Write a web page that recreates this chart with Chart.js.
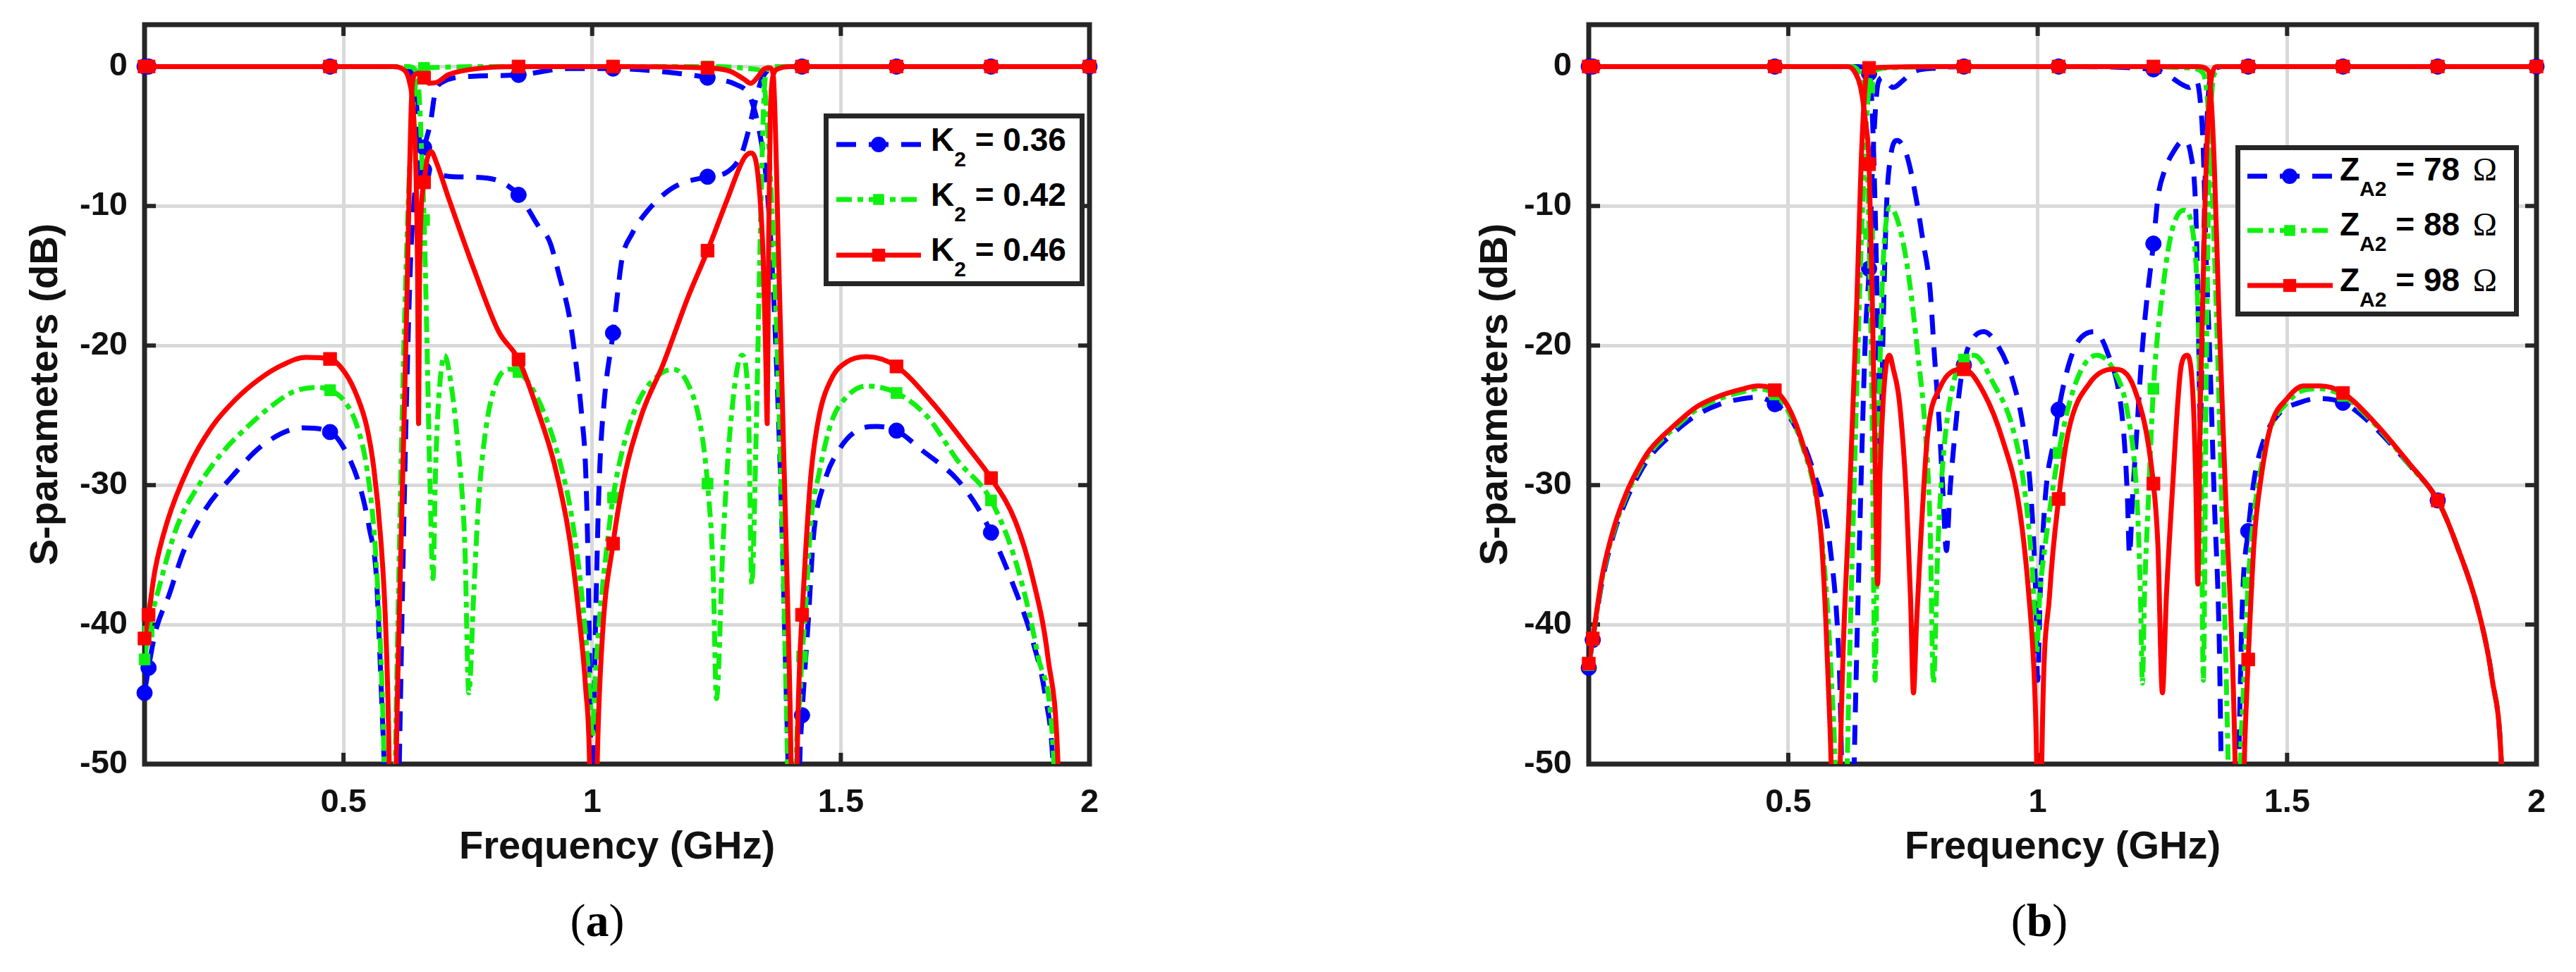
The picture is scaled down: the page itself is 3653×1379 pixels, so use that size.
<!DOCTYPE html>
<html>
<head>
<meta charset="utf-8">
<title>S-parameters</title>
<script src="https://cdn.jsdelivr.net/npm/chart.js@4.4.1/dist/chart.umd.min.js"></script>
<style>
    html, body { margin: 0; padding: 0; background: #fff; }
    body { width: 3653px; height: 1379px; position: relative; overflow: hidden; font-family: "Liberation Sans", Arial, sans-serif; }
    .panel { position: absolute; top: 0; }
    .legend { position: absolute; box-sizing: border-box; border: 7px solid #262626; background: #fff; }
    .legend svg { position: absolute; overflow: visible; }
    .legend .txt { position: absolute; font-weight: bold; font-size: 46px; line-height: 46px; color: #000; white-space: nowrap; }
    .legend .sub { font-size: 30px; position: relative; top: 22px; }
    .legend .ohm { font-family: "Liberation Serif", serif; font-weight: normal; margin-left: 6px; }
    .caption { position: absolute; width: 200px; text-align: center; font-family: "Liberation Serif", serif; font-size: 66px; line-height: 66px; color: #000; }
</style>
</head>
<body>
<div class="panel" style="left:0;width:1800px"><canvas id="chartA" width="1800" height="1379"></canvas></div>
<div class="panel" style="left:2056px;width:1597px"><canvas id="chartB" width="1597" height="1379"></canvas></div>
<div class="caption" style="left:747px;top:1273px">(<b>a</b>)</div>
<div class="caption" style="left:2792px;top:1273px">(<b>b</b>)</div>

<script>
// frequencies (GHz) where the curves carry a marker
const markerFreqs = [0.1, 0.108, 0.473, 0.662, 0.852, 1.042, 1.232, 1.422, 1.612, 1.802, 2.0];
const xTicks = [0.5, 1, 1.5, 2];
const yTicks = [-50, -40, -30, -20, -10, 0];

// ---- (a) coupling K2, [GHz, dB] ----
const legendA = ['0.36', '0.42', '0.46'];

const aS21_036 = [[0.1,-44.9],[0.108,-43.1],[0.122,-40.5],[0.15,-37.8],[0.178,-34.8],[0.221,-31.8],[0.273,-29.5],[0.339,-27.1],[0.419,-25.9],[0.473,-26.2],[0.5,-27.3],[0.533,-30.1],[0.552,-33.1],[0.566,-36.5],[0.571,-40.3],[0.577,-45.6],[0.582,-50.3],[0.597,-75],[0.612,-50.3],[0.62,-35],[0.628,-22],[0.636,-13],[0.645,-8.5],[0.662,-5.8],[0.675,-4],[0.684,-1.9],[0.695,-1.2],[0.76,-0.7],[0.852,-0.6],[0.95,-0.15],[1.042,-0.15],[1.15,-0.4],[1.232,-0.8],[1.29,-1.3],[1.315,-2.0],[1.327,-3.2],[1.338,-5],[1.349,-7.7],[1.36,-13],[1.37,-20.7],[1.38,-31],[1.39,-44.6],[1.394,-50.3],[1.405,-75],[1.417,-50.3],[1.422,-46.5],[1.435,-39.5],[1.445,-33.7],[1.466,-29.9],[1.496,-27.5],[1.532,-26.1],[1.572,-25.8],[1.612,-26.1],[1.663,-27.5],[1.734,-29.6],[1.775,-31.6],[1.802,-33.4],[1.846,-37.1],[1.886,-41.2],[1.912,-45.3],[1.927,-50.3],[1.94,-65]];
const aS11_036 = [[0.1,0],[0.108,0],[0.473,0],[0.62,0],[0.635,-0.3],[0.645,-2],[0.652,-5],[0.662,-7.4],[0.68,-7.7],[0.72,-7.9],[0.79,-8.0],[0.852,-9.2],[0.893,-11.5],[0.914,-12.5],[0.934,-15],[0.954,-17.9],[0.969,-21.7],[0.979,-25],[0.987,-29],[0.992,-36],[0.996,-46],[1.0,-60],[1.004,-46],[1.01,-35],[1.015,-29],[1.025,-23.7],[1.042,-19.1],[1.05,-16.6],[1.06,-13.8],[1.08,-12],[1.11,-10.4],[1.162,-8.7],[1.232,-7.9],[1.27,-7.6],[1.3,-6.3],[1.315,-4.5],[1.328,-2.5],[1.34,-1.0],[1.355,-0.2],[1.37,0],[1.422,0],[1.612,0],[1.802,0],[2.0,0]];

const aS21_042 = [[0.1,-42.5],[0.108,-40.5],[0.131,-37.1],[0.164,-33.1],[0.211,-29.9],[0.258,-27.6],[0.306,-25.85],[0.353,-24.4],[0.4,-23.3],[0.448,-23.0],[0.473,-23.2],[0.5,-23.9],[0.528,-25.85],[0.547,-28.8],[0.561,-33.1],[0.57,-38.2],[0.5775,-44.6],[0.582,-50.3],[0.594,-75],[0.604,-50.3],[0.612,-35],[0.62,-22],[0.628,-12],[0.636,-5],[0.644,-1.5],[0.652,-0.3],[0.662,-0.1],[0.852,0],[1.042,0],[1.232,0],[1.33,-0.2],[1.345,-1],[1.352,-4],[1.36,-9],[1.37,-18],[1.38,-30],[1.388,-42],[1.393,-50.3],[1.402,-75],[1.41,-50.3],[1.418,-45],[1.422,-42.3],[1.428,-39.5],[1.44,-32.6],[1.456,-29.2],[1.481,-25.5],[1.511,-23.7],[1.552,-22.9],[1.612,-23.4],[1.674,-25.1],[1.734,-28.2],[1.802,-31.1],[1.856,-36.0],[1.896,-42.2],[1.929,-50.3],[1.945,-70]];
const aS11_042 = [[0.1,0],[0.108,0],[0.473,0],[0.63,0],[0.645,-0.3],[0.652,-2],[0.658,-7],[0.662,-11],[0.668,-20],[0.674,-30],[0.68,-36.7],[0.685,-29],[0.691,-24.1],[0.703,-20.7],[0.716,-22.7],[0.731,-27.5],[0.744,-34.3],[0.752,-44.9],[0.762,-37.7],[0.772,-31],[0.787,-25.8],[0.807,-22.7],[0.833,-21.7],[0.852,-21.9],[0.873,-22.7],[0.903,-24.8],[0.934,-28.2],[0.959,-32.3],[0.979,-37.8],[0.995,-44.6],[1.0,-48],[1.006,-44],[1.015,-39.5],[1.03,-34.3],[1.042,-30.9],[1.066,-26.8],[1.096,-23.8],[1.131,-22.2],[1.162,-21.7],[1.192,-22.7],[1.218,-25.8],[1.232,-29.9],[1.243,-36.0],[1.25,-45.3],[1.263,-34.3],[1.278,-25.8],[1.301,-20.7],[1.314,-24.1],[1.321,-37.1],[1.329,-27.5],[1.337,-13.8],[1.344,-3.6],[1.349,-0.5],[1.36,0],[1.422,0],[1.612,0],[1.802,0],[2.0,0]];

const aS21_046 = [[0.1,-41.0],[0.108,-39.3],[0.121,-36.1],[0.145,-32.7],[0.1875,-28.8],[0.235,-25.85],[0.282,-23.9],[0.329,-22.45],[0.377,-21.4],[0.424,-20.85],[0.473,-20.96],[0.504,-22.0],[0.528,-23.7],[0.547,-25.85],[0.561,-28.8],[0.575,-33.9],[0.585,-40.3],[0.592,-50.3],[0.599,-75],[0.606,-50.3],[0.613,-38.2],[0.62,-28],[0.627,-17.5],[0.632,-9],[0.636,-3],[0.641,-0.7],[0.65,-0.5],[0.662,-0.8],[0.672,-1.2],[0.69,-1.1],[0.71,-0.6],[0.74,-0.3],[0.8,-0.05],[0.852,0],[1.042,0],[1.232,-0.1],[1.278,-0.35],[1.305,-0.9],[1.319,-1.2],[1.332,-0.8],[1.345,-0.2],[1.357,-0.1],[1.364,-0.6],[1.375,-13.8],[1.385,-27.5],[1.395,-41.2],[1.4,-50.3],[1.406,-75],[1.412,-50.3],[1.417,-43],[1.422,-39.3],[1.43,-34.3],[1.44,-29.2],[1.456,-25.1],[1.481,-22.4],[1.511,-21.2],[1.552,-20.8],[1.612,-21.5],[1.684,-24.1],[1.76,-27.5],[1.802,-29.5],[1.851,-32.6],[1.886,-36.7],[1.917,-42.5],[1.937,-50.3],[1.95,-70]];
const aS11_046 = [[0.1,0],[0.108,0],[0.473,0],[0.6,0],[0.62,-0.2],[0.632,-1],[0.64,-3],[0.646,-8],[0.649,-15],[0.651,-25.6],[0.653,-15],[0.656,-10.5],[0.662,-8.3],[0.668,-6.7],[0.676,-6.1],[0.686,-6.8],[0.711,-9.4],[0.762,-14.5],[0.812,-19.0],[0.852,-21.0],[0.888,-24.4],[0.924,-28.5],[0.954,-33.7],[0.974,-39.5],[0.987,-44.6],[0.995,-50.3],[1.002,-70],[1.01,-50.3],[1.02,-41.2],[1.042,-34.2],[1.066,-29.2],[1.101,-24.8],[1.142,-21.4],[1.192,-16.6],[1.232,-13.2],[1.273,-9.4],[1.305,-6.6],[1.319,-6.2],[1.334,-8.0],[1.344,-13.8],[1.349,-20.7],[1.352,-25.6],[1.355,-12],[1.358,-4],[1.362,-1],[1.372,-0.2],[1.4,0],[1.422,0],[1.612,0],[1.802,0],[2.0,0]];

// ---- (b) line impedance ZA2, [GHz, dB] ----
const legendB = ['78', '88', '98'];

const bS21_78 = [[0.1,-43.1],[0.108,-41.1],[0.1275,-36.8],[0.151,-33.4],[0.175,-31.1],[0.198,-29.4],[0.222,-28.0],[0.269,-26.3],[0.316,-25.0],[0.363,-24.2],[0.41,-23.8],[0.439,-23.7],[0.473,-24.2],[0.5,-25.0],[0.53,-27.0],[0.555,-29.5],[0.571,-31.5],[0.585,-34.8],[0.599,-40.5],[0.604,-45],[0.607,-50.3],[0.62,-75],[0.632,-50.3],[0.64,-38],[0.648,-27],[0.655,-19],[0.662,-14.5],[0.668,-8],[0.674,-3.5],[0.68,-1.2],[0.69,-0.8],[0.71,-1.5],[0.73,-1.0],[0.75,-0.4],[0.8,-0.1],[0.852,0],[1.042,0],[1.232,-0.2],[1.26,-0.6],[1.29,-1.3],[1.305,-1.5],[1.318,-1.0],[1.326,-2.5],[1.332,-6],[1.338,-14],[1.345,-20.7],[1.354,-31],[1.364,-41.2],[1.368,-50.3],[1.385,-75],[1.403,-50.3],[1.406,-44.6],[1.411,-37.8],[1.422,-33.3],[1.434,-29.6],[1.453,-26.8],[1.486,-24.8],[1.524,-24.1],[1.562,-23.8],[1.612,-24.1],[1.665,-25.5],[1.746,-28.6],[1.802,-31.1],[1.84,-34.3],[1.887,-39.5],[1.911,-43.9],[1.93,-50.3],[1.945,-70]];
const bS11_78 = [[0.1,0],[0.108,0],[0.473,0],[0.64,0],[0.655,-0.1],[0.662,-0.5],[0.668,-3],[0.674,-10],[0.68,-20],[0.685,-28],[0.69,-19],[0.697,-10],[0.705,-6.5],[0.718,-5.3],[0.737,-6.3],[0.756,-9.4],[0.77,-12.5],[0.784,-15.9],[0.793,-20.7],[0.803,-25.8],[0.81,-30.5],[0.817,-34.7],[0.824,-30.5],[0.831,-27.5],[0.845,-22.7],[0.852,-21.4],[0.859,-20.3],[0.892,-19.0],[0.92,-20],[0.949,-22.4],[0.972,-26.1],[0.987,-31],[0.996,-37.8],[1.0,-44],[1.005,-37.8],[1.015,-31],[1.034,-26.5],[1.042,-24.6],[1.062,-21.4],[1.081,-19.7],[1.114,-19.0],[1.142,-20.7],[1.166,-24.1],[1.175,-27.5],[1.18,-31],[1.184,-35],[1.19,-31],[1.199,-26],[1.208,-21],[1.218,-17],[1.232,-12.7],[1.241,-9.4],[1.255,-7.4],[1.269,-6.3],[1.293,-5.3],[1.307,-6.3],[1.317,-10.4],[1.322,-18],[1.326,-26],[1.33,-19],[1.335,-9],[1.34,-3.5],[1.345,-1],[1.355,-0.2],[1.37,0],[1.422,0],[1.612,0],[1.802,0],[2.0,0]];

const bS21_88 = [[0.1,-42.9],[0.108,-41.1],[0.1275,-36.6],[0.151,-33.2],[0.175,-30.8],[0.198,-29.1],[0.222,-27.7],[0.269,-26.0],[0.316,-24.6],[0.363,-23.8],[0.41,-23.3],[0.439,-23.1],[0.473,-23.5],[0.495,-24.4],[0.514,-25.8],[0.533,-27.7],[0.552,-30.2],[0.566,-33.5],[0.578,-38.5],[0.588,-45],[0.594,-50.3],[0.606,-75],[0.618,-50.3],[0.632,-30],[0.645,-14],[0.655,-5],[0.662,-1.5],[0.67,-0.4],[0.7,-0.1],[0.852,0],[1.042,0],[1.232,0],[1.3,-0.1],[1.33,-0.4],[1.338,-1.5],[1.345,-5],[1.355,-14],[1.368,-30],[1.382,-50.3],[1.394,-75],[1.406,-50.3],[1.412,-45],[1.422,-37],[1.434,-32],[1.449,-28.5],[1.467,-25.9],[1.5,-24.1],[1.533,-23.2],[1.566,-23.1],[1.612,-23.6],[1.675,-25.6],[1.746,-28.6],[1.802,-31.1],[1.84,-34.3],[1.887,-39.5],[1.911,-43.9],[1.93,-50.3],[1.945,-70]];
const bS11_88 = [[0.1,0],[0.108,0],[0.473,0],[0.625,0],[0.64,-0.3],[0.648,-1.5],[0.655,-5],[0.662,-12],[0.668,-25],[0.674,-44],[0.68,-28],[0.688,-16],[0.695,-11.5],[0.704,-10.1],[0.723,-11.5],[0.741,-14.9],[0.76,-20.7],[0.774,-25.8],[0.784,-32.6],[0.791,-44.2],[0.8,-34.3],[0.812,-27.5],[0.831,-22.7],[0.852,-21.0],[0.873,-20.7],[0.911,-22.7],[0.949,-25.8],[0.972,-29.9],[0.989,-36.0],[0.998,-42],[1.004,-38],[1.015,-34.3],[1.042,-27.7],[1.076,-22.7],[1.118,-20.7],[1.156,-22.0],[1.18,-24.8],[1.199,-31],[1.206,-37.8],[1.21,-44.2],[1.214,-38],[1.222,-31],[1.232,-23.1],[1.251,-15.9],[1.269,-11.8],[1.293,-10.3],[1.312,-12.1],[1.321,-17.3],[1.328,-30],[1.332,-44],[1.338,-22],[1.344,-6],[1.35,-1.5],[1.358,-0.3],[1.37,0],[1.422,0],[1.612,0],[1.802,0],[2.0,0]];

const bS21_98 = [[0.1,-42.8],[0.108,-41.0],[0.1275,-36.4],[0.151,-33.0],[0.175,-30.6],[0.198,-28.9],[0.222,-27.5],[0.269,-25.8],[0.316,-24.4],[0.363,-23.6],[0.41,-23.1],[0.439,-22.9],[0.473,-23.2],[0.495,-24.1],[0.514,-25.5],[0.533,-27.5],[0.552,-29.9],[0.566,-33.7],[0.575,-39.5],[0.5825,-46.3],[0.586,-50.3],[0.595,-75],[0.604,-50.3],[0.6226,-31],[0.637,-17.3],[0.646,-7],[0.653,-1.9],[0.658,-0.3],[0.662,-0.1],[0.8,0],[0.852,0],[1.042,0],[1.232,0],[1.32,0],[1.342,-0.3],[1.347,-1.9],[1.354,-7],[1.363,-17.3],[1.377,-31],[1.396,-50.3],[1.405,-75],[1.414,-50.3],[1.4175,-46.3],[1.422,-42.5],[1.434,-34],[1.449,-29.2],[1.467,-25.8],[1.5,-23.8],[1.533,-22.9],[1.566,-22.9],[1.612,-23.4],[1.675,-25.5],[1.746,-28.5],[1.802,-31.1],[1.84,-34.3],[1.887,-39.5],[1.911,-43.9],[1.93,-50.3],[1.945,-70]];
const bS11_98 = [[0.1,0],[0.108,0],[0.473,0],[0.62,0],[0.635,-0.5],[0.645,-1.5],[0.655,-4],[0.662,-7],[0.668,-16],[0.674,-28],[0.679,-37.1],[0.684,-29],[0.69,-24.1],[0.696,-21.5],[0.703,-20.7],[0.71,-21.6],[0.723,-24.1],[0.737,-31],[0.745,-38],[0.751,-44.9],[0.757,-40],[0.765,-34.3],[0.779,-26.5],[0.803,-23.1],[0.852,-21.7],[0.892,-23.4],[0.93,-26.8],[0.963,-31.6],[0.982,-37.8],[0.994,-44.6],[0.998,-50.3],[1.003,-70],[1.008,-50.3],[1.024,-37.8],[1.042,-31],[1.062,-26.1],[1.104,-22.7],[1.152,-21.7],[1.194,-23.1],[1.232,-29.9],[1.241,-34.3],[1.25,-44.9],[1.258,-38],[1.269,-31],[1.288,-21.4],[1.3,-20.7],[1.312,-24.1],[1.317,-30],[1.321,-37.1],[1.326,-24.1],[1.335,-10.4],[1.342,-3.6],[1.35,-0.5],[1.36,0],[1.422,0],[1.612,0],[1.802,0],[2.0,0]];

// blue, green, red (matlab-like)
const styles = [
    { color: '#0000ff', dash: [28, 18], point: 'circle', radius: 11, width: 7 },
    { color: '#10f010', dash: [22, 8, 8, 8], point: 'rect', radius: 11, width: 7 },
    { color: '#ff0000', dash: [], point: 'rect', radius: 13, width: 7 }
];
const frameColor = '#262626';
const gridColor = '#d9d9d9';
const fontFamily = '"Liberation Sans", Arial, sans-serif';

Chart.defaults.font.family = fontFamily;

function toXY(curve) {
    return curve.map(p => ({ x: p[0], y: p[1] }));
}

function pickMarkers(curve) {
    return curve.filter(p => markerFreqs.some(f => Math.abs(f - p[0]) < 1e-9));
}

function buildDatasets(pairs) {
    const sets = [];
    pairs.forEach((pair, i) => {
        const st = styles[i];
        const base = (pairs.length - 1 - i) * 2; // red last -> on top
        pair.forEach(curve => sets.push({
            data: toXY(curve),
            showLine: true,
            pointRadius: 0,
            borderColor: st.color,
            borderWidth: st.width,
            borderDash: st.dash,
            borderJoinStyle: 'round',
            cubicInterpolationMode: 'monotone',
            clip: 0,
            order: base + 1
        }));
        sets.push({
            data: toXY(pair.flatMap(pickMarkers)),
            showLine: false,
            pointStyle: st.point,
            pointRadius: st.radius,
            pointBackgroundColor: st.color,
            pointBorderColor: st.color,
            pointBorderWidth: 1,
            clip: false,
            order: base
        });
    });
    return sets;
}

// box around the axes with inward tick marks, like a matlab figure
const boxFrame = {
    id: 'boxFrame',
    beforeDatasetsDraw(chart) {
        const { ctx, chartArea: a, scales: { x, y } } = chart;
        ctx.save();
        ctx.strokeStyle = frameColor;
        ctx.lineWidth = 6;
        ctx.beginPath();
        xTicks.forEach(v => {
            const px = x.getPixelForValue(v);
            if (px > a.right - 4) return;
            ctx.moveTo(px, a.bottom); ctx.lineTo(px, a.bottom - 16);
            ctx.moveTo(px, a.top); ctx.lineTo(px, a.top + 16);
        });
        yTicks.forEach(v => {
            const py = y.getPixelForValue(v);
            if (py > a.bottom - 4) return;
            ctx.moveTo(a.left, py); ctx.lineTo(a.left + 16, py);
            ctx.moveTo(a.right, py); ctx.lineTo(a.right - 16, py);
        });
        ctx.stroke();
        ctx.lineWidth = 7;
        ctx.strokeRect(a.left, a.top, a.right - a.left, a.bottom - a.top);
        ctx.restore();
    }
};

function makeChart(canvasId, pairs, yAxisWidth, padRight) {
    const tickFont = { family: fontFamily, size: 47, weight: 'bold' };
    const titleFont = { family: fontFamily, size: 56, weight: 'bold' };
    return new Chart(document.getElementById(canvasId), {
        type: 'scatter',
        data: { datasets: buildDatasets(pairs) },
        plugins: [boxFrame],
        options: {
            responsive: false,
            animation: false,
            events: [],
            layout: { padding: { top: 35, right: padRight, bottom: 143, left: 0 } },
            plugins: { legend: { display: false }, tooltip: { enabled: false } },
            scales: {
                x: {
                    type: 'linear', min: 0.1, max: 2,
                    afterBuildTicks: s => { s.ticks = xTicks.map(v => ({ value: v })); },
                    afterFit: s => { s.height = 152; s.paddingLeft = 0; s.paddingRight = 0; },
                    grid: { color: gridColor, lineWidth: 5, drawTicks: false },
                    border: { display: false },
                    ticks: { autoSkip: false, maxRotation: 0, padding: 27, color: '#111', font: tickFont, callback: v => String(v) },
                    title: { display: true, text: 'Frequency (GHz)', color: '#111', font: titleFont, padding: { top: 0, bottom: 0 } }
                },
                y: {
                    type: 'linear', min: -50, max: 3,
                    afterBuildTicks: s => { s.ticks = yTicks.map(v => ({ value: v })); },
                    afterFit: s => { s.width = yAxisWidth; s.paddingTop = 0; s.paddingBottom = 0; },
                    grid: { color: gridColor, lineWidth: 5, drawTicks: false },
                    border: { display: false },
                    ticks: { autoSkip: false, padding: 24, color: '#111', font: tickFont, callback: v => String(v) },
                    title: { display: true, text: 'S-parameters (dB)', color: '#111', font: titleFont, padding: { top: 32, bottom: 0 } }
                }
            }
        }
    });
}

function sampleSvg(st, len, mx) {
    const ns = 'http://www.w3.org/2000/svg';
    const svg = document.createElementNS(ns, 'svg');
    svg.setAttribute('width', len);
    svg.setAttribute('height', 30);
    const line = document.createElementNS(ns, 'line');
    line.setAttribute('x1', 0); line.setAttribute('y1', 15);
    line.setAttribute('x2', len); line.setAttribute('y2', 15);
    line.setAttribute('stroke', st.color);
    line.setAttribute('stroke-width', st.width);
    if (st.dash.length) line.setAttribute('stroke-dasharray', st.dash.join(' '));
    svg.appendChild(line);
    let m;
    if (st.point === 'circle') {
        m = document.createElementNS(ns, 'circle');
        m.setAttribute('cx', mx); m.setAttribute('cy', 15); m.setAttribute('r', st.radius);
    } else {
        const side = st.radius * Math.SQRT2;
        m = document.createElementNS(ns, 'rect');
        m.setAttribute('x', mx - side / 2); m.setAttribute('y', 15 - side / 2);
        m.setAttribute('width', side); m.setAttribute('height', side);
    }
    m.setAttribute('fill', st.color);
    svg.appendChild(m);
    return svg;
}

function buildLegend(box, labels, makeText) {
    const el = document.createElement('div');
    el.className = 'legend';
    Object.assign(el.style, { left: box.x + 'px', top: box.y + 'px', width: box.w + 'px', height: box.h + 'px' });
    labels.forEach((lab, i) => {
        const svg = sampleSvg(styles[i], box.lineLen, box.markX);
        svg.style.left = box.lineX + 'px';
        svg.style.top = (box.lineY[i] - 15) + 'px';
        el.appendChild(svg);
        const t = document.createElement('div');
        t.className = 'txt';
        t.style.left = box.textX + 'px';
        t.style.top = (box.base[i] - 39) + 'px';
        t.innerHTML = makeText(lab);
        el.appendChild(t);
    });
    document.body.appendChild(el);
}

makeChart('chartA', [[aS21_036, aS11_036], [aS21_042, aS11_042], [aS21_046, aS11_046]], 205, 255);
makeChart('chartB', [[bS21_78, bS11_78], [bS21_88, bS11_88], [bS21_98, bS11_98]], 197, 56);

buildLegend({ x: 1168, y: 161, w: 370, h: 245, lineX: 11, lineLen: 120, markX: 60, lineY: [37, 115, 194], textX: 145, base: [46, 124, 202] },
    legendA, v => 'K<span class="sub">2</span> = ' + v);
buildLegend({ x: 3170, y: 206, w: 402, h: 243, lineX: 10, lineLen: 121, markX: 60, lineY: [37, 114, 192], textX: 141, base: [43, 121, 200] },
    legendB, v => 'Z<span class="sub">A2</span> = ' + v + ' <span class="ohm">&Omega;</span>');
</script>
</body>
</html>
